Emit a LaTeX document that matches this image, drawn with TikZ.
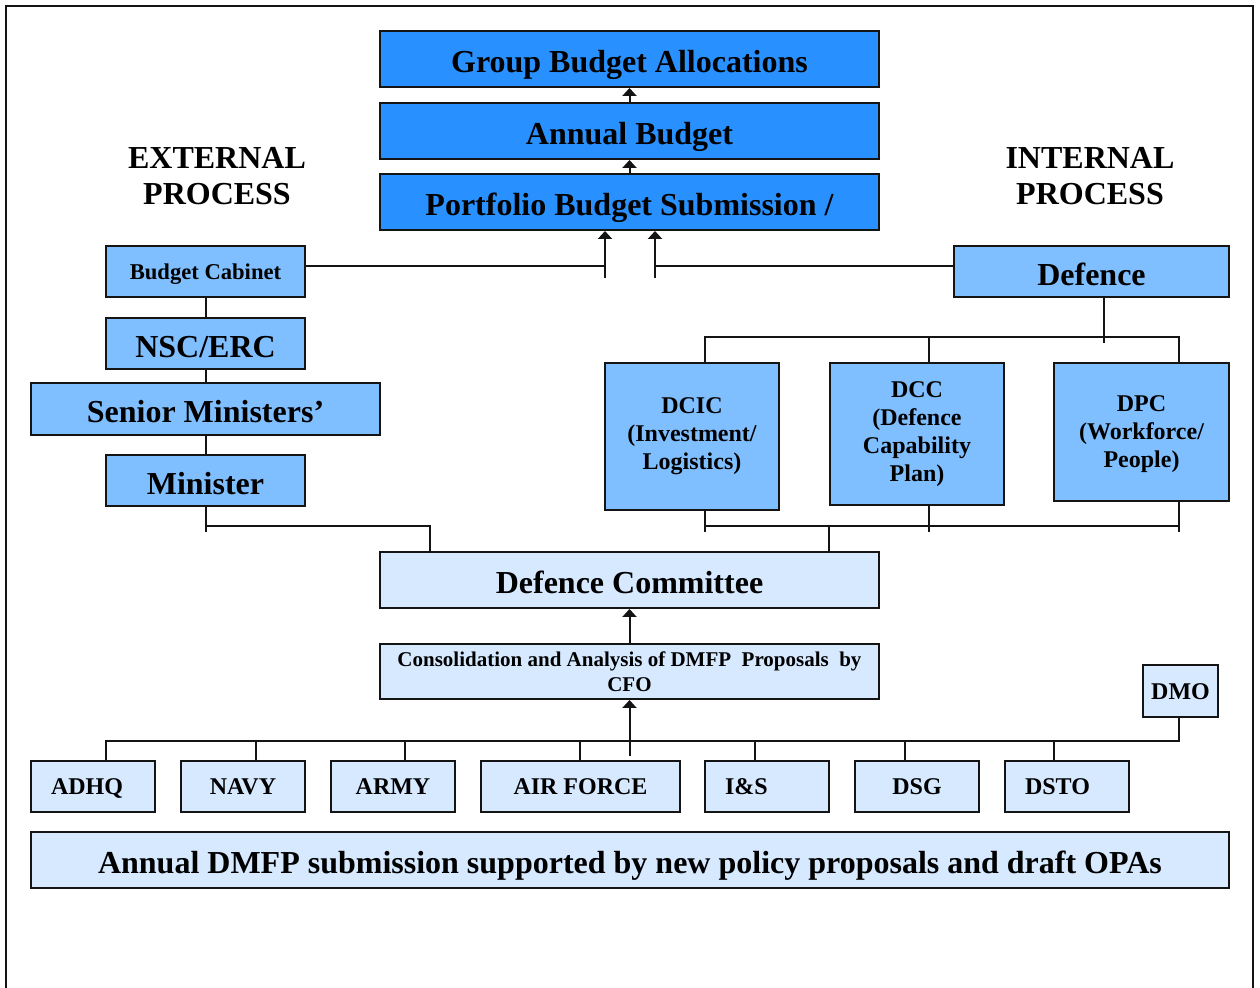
\documentclass[tikz,border=0pt]{standalone}
\usepackage{fontspec}
\setmainfont{Liberation Serif}
\usetikzlibrary{arrows.meta,positioning}
\definecolor{deep}{RGB}{41,145,255}
\definecolor{mid}{RGB}{128,191,255}
\definecolor{pale}{RGB}{214,233,255}
\definecolor{ink}{RGB}{20,20,20}
\newcommand{\bigbold}{\fontsize{16}{18}\selectfont\bfseries}
\newcommand{\midbold}{\fontsize{12}{14}\selectfont\bfseries}
\newcommand{\cabbold}{\fontsize{11.3}{13}\selectfont\bfseries}
\newcommand{\smallbold}{\fontsize{10.5}{12.5}\selectfont\bfseries}
\tikzset{
  box/.style={draw=ink,line width=1pt,inner sep=0pt,align=center,font=\bigbold},
  wh/.style 2 args={minimum width=#1*.5pt,minimum height=#2*.5pt},
  sline/.style={text height=#1,text depth=0pt},
  sline/.default=13.6pt,
  indent/.style={align=left,text width=42pt},
  lnk/.style={draw=ink,line width=1pt},
  up/.style={lnk,-{Triangle[width=7pt,length=4pt]}},
}

\begin{document}
\begin{tikzpicture}[x=.5pt,y=-.5pt]
\useasboundingbox (0,0) rectangle (1260,988);
% page frame, open at the bottom
\draw[ink,line width=1pt] (6,1000) |- (1253,6) -- (1253,1000);

% budget chain
\node[box,sline,fill=deep,wh={499}{56}] (grp) at (629.5,59) {Group Budget Allocations};
\node[box,sline,fill=deep,wh={499}{56}] (ann) at (629.5,131) {Annual Budget};
\node[box,sline,fill=deep,wh={499}{56}] (pbs) at (629.5,202) {Portfolio Budget Submission /};
\node[font=\bigbold,align=center] (ext) at (217,176) {EXTERNAL\\PROCESS};
\node[font=\bigbold,align=center] (int) at (1090,176) {INTERNAL\\PROCESS};

% external side
\node[box,sline=8pt,fill=mid,wh={199}{51},font=\cabbold] (cab) at (205.5,271.5) {Budget Cabinet};
\node[box,sline,fill=mid,wh={199}{51}] (nsc) at (205.5,343.5) {NSC/ERC};
\node[box,sline,fill=mid,wh={349}{52}] (snr) at (205.5,409) {Senior Ministers’};
\node[box,sline,fill=mid,wh={199}{51}] (mini) at (205.5,480.5) {Minister};

% internal side
\node[box,sline,fill=mid,wh={275}{51}] (def) at (1091.5,271.5) {Defence};
\node[box,fill=mid,wh={174}{147},font=\midbold] (dcic) at (692,436.5) {DCIC\\(Investment/\\Logistics)};
\node[box,fill=mid,wh={174}{142},font=\midbold] (dcc) at (917,434) {DCC\\(Defence\\Capability\\Plan)};
\node[box,fill=mid,wh={175}{138},font=\midbold,text depth=0pt] (dpc) at (1141.5,432) {DPC\\(Workforce/\\People)};

% committee and consolidation
\node[box,sline,fill=pale,wh={499}{56}] (dcom) at (629.5,580) {Defence Committee};
\node[box,fill=pale,wh={499}{55},font=\smallbold] (cons) at (629.5,671.5)
  {Consolidation and Analysis of DMFP~ Proposals~ by\\CFO};
\node[box,sline=8.4pt,fill=pale,wh={75}{52},font=\midbold] (dmo) at (1180.5,691) {DMO};

% groups
\tikzset{grpbox/.style={box,sline=8.4pt,fill=pale,wh={124}{51},font=\midbold}}
\node[grpbox,indent] (adhq) at (93,786.5) {ADHQ};
\node[grpbox] (navy) at (243,786.5) {NAVY};
\node[grpbox] (army) at (393,786.5) {ARMY};
\node[grpbox,wh={199}{51}] (airf) at (580.5,786.5) {AIR FORCE};
\node[grpbox,indent] (ins) at (767,786.5) {I\&S};
\node[grpbox] (dsg) at (917,786.5) {DSG};
\node[grpbox,indent] (dsto) at (1067,786.5) {DSTO};
\node[box,sline,fill=pale,wh={1198}{56}] (subm) at (630,860)
  {Annual DMFP submission supported by new policy proposals and draft OPAs};

% arrows up the chain
\draw[up] (ann.north) -- (grp.south);
\draw[up] (pbs.north) -- (ann.south);
\draw[up] (cons.north) -- (dcom.south);

% cabinet and defence feed the submission
\coordinate (jl) at (605,266);
\coordinate (jr) at (655,266);
\draw[lnk] (cab.east |- jl) -- (jl);
\draw[up] ([yshift=-6pt]jl) -- (jl |- pbs.south);
\draw[lnk] (def.west |- jr) -- (jr);
\draw[up] ([yshift=-6pt]jr) -- (jr |- pbs.south);

% ministers' chain
\draw[lnk] (cab) -- (nsc);
\draw[lnk] (nsc) -- (snr);
\draw[lnk] (snr) -- (mini);

% defence to its committees
\coordinate (dtop) at (1104,337);
\coordinate (ta) at (705,337);
\coordinate (tb) at (929,337);
\coordinate (tc) at (1179,337);
\draw[lnk] (dtop |- def.south) -- ([yshift=-3pt]dtop);
\draw[lnk] (ta |- dcic.north) -- (ta) -- (tc) -- (tc |- dpc.north);
\draw[lnk] (tb) -- (tb |- dcc.north);

% committees to defence committee
\coordinate (ba) at (705,526);
\coordinate (bb) at (929,526);
\coordinate (bc) at (1179,526);
\coordinate (bm) at (829,526);
\draw[lnk] (ba |- dcic.south) -- ([yshift=-3pt]ba);
\draw[lnk] (bb |- dcc.south) -- ([yshift=-3pt]bb);
\draw[lnk] (bc |- dpc.south) -- ([yshift=-3pt]bc);
\draw[lnk] (ba) -- (bc);
\draw[lnk] (bm) -- (bm |- dcom.north);

% minister to defence committee
\coordinate (ma) at (206,526);
\coordinate (mb) at (430,526);
\draw[lnk] (ma |- mini.south) -- ([yshift=-3pt]ma);
\draw[lnk] (ma) -- (mb) -- (mb |- dcom.north);

% groups bus
\coordinate (gl) at (106,741);
\coordinate (gr) at (1179,741);
\coordinate (gm) at (629.5,756);
\draw[lnk] (gl |- adhq.north) -- (gl) -- (gr) -- (gr |- dmo.south);
\foreach \n/\x in {navy/256,army/405,airf/580,ins/755,dsg/905,dsto/1054}{
  \coordinate (g) at (\x,741);
  \draw[lnk] (g) -- (g |- \n.north);
}
\draw[up] (gm) -- (gm |- cons.south);
\end{tikzpicture}
\end{document}
